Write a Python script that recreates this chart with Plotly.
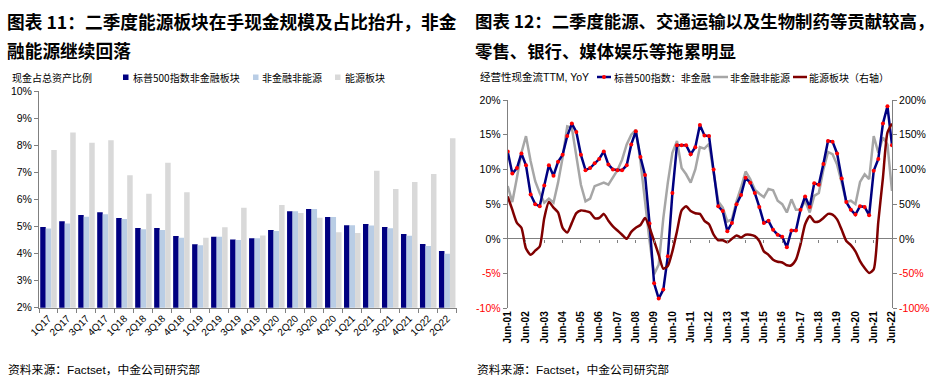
import plotly.graph_objects as go

W, H = 936, 386


def px(x):
    return x / W


def py(y):
    return 1 - y / H


# ---------------- Left chart data (现金占总资产比例, %) ----------------
quarters = ["1Q17", "2Q17", "3Q17", "4Q17", "1Q18", "2Q18", "3Q18", "4Q18",
            "1Q19", "2Q19", "3Q19", "4Q19", "1Q20", "2Q20", "3Q20", "4Q20",
            "1Q21", "2Q21", "3Q21", "4Q21", "1Q22", "2Q22"]
cash_sp500_nonfin = [4.98, 5.19, 5.42, 5.52, 5.31, 4.94, 4.94, 4.65, 4.34, 4.62, 4.52,
                     4.56, 4.87, 5.56, 5.64, 5.35, 5.04, 5.09, 4.98, 4.72, 4.35, 4.09]
cash_nonfin_nonenergy = [4.92, 5.11, 5.36, 5.45, 5.27, 4.90, 4.87, 4.58, 4.31, 4.62, 4.50,
                         4.56, 4.83, 5.56, 5.64, 5.35, 5.04, 5.03, 4.93, 4.66, 4.28, 3.99]
cash_energy = [7.82, 8.47, 8.09, 8.18, 6.89, 6.21, 7.35, 6.26, 4.58, 4.97, 5.69,
               4.67, 5.79, 5.50, 5.32, 4.79, 4.76, 7.06, 6.38, 6.64, 6.94, 8.26]
left_ticks = [2, 3, 4, 5, 6, 7, 8, 9, 10]

# ---------------- Right chart data (经营性现金流TTM, YoY, %) ----------------
_month_end = {3: 31, 6: 30, 9: 30, 12: 31}
qdates = [f"{y}-{m:02d}-{_month_end[m]}" for y in range(2001, 2023) for m in (3, 6, 9, 12)
          if "2001-06-30" <= f"{y}-{m:02d}-{_month_end[m]}" <= "2022-06-30"]
ocf_nonfin = [12.6, 9.4, 10.2, 12.3, 10.6, 6.4, 5.0, 4.7, 7.7, 10.6, 9.1, 11.1, 12.1, 14.8,
              16.6, 15.4, 12.1, 9.9, 10.2, 10.9, 11.5, 12.6, 10.7, 10.0, 9.9, 9.9, 10.6, 13.6,
              15.5, 11.8, 9.2, 2.2, -6.4, -8.6, -7.3, -2.5, 6.6, 13.5, 13.5, 13.5, 12.2, 13.2,
              16.4, 14.9, 14.8, 10.0, 4.7, 4.0, 1.1, 2.3, 5.0, 6.3, 8.8, 8.1, 6.6, 4.6,
              2.3, 2.6, 1.3, 0.6, 0.3, -1.2, 1.2, 1.2, 4.2, 6.1, 4.6, 8.0, 7.8, 10.8,
              14.1, 14.0, 12.3, 8.7, 5.3, 4.2, 3.5, 4.7, 4.6, 3.4, 9.8, 11.5, 16.6, 19.1, 13.5]
ocf_nonfin_nonenergy = [7.6, 5.3, 8.8, 12.4, 14.8, 11.2, 8.3, 6.6, 5.2, 5.8, 5.2, 8.1, 11.7,
                        16.2, 16.0, 12.2, 7.8, 5.4, 5.8, 7.6, 7.9, 8.1, 7.8, 8.8, 9.9, 11.4,
                        13.6, 15.0, 15.7, 11.2, 5.0, -0.3, -5.1, -3.7, 3.0, 8.1, 12.4, 14.1,
                        10.2, 9.3, 8.1, 10.0, 13.2, 13.0, 13.7, 9.8, 5.4, 4.5, 2.5, 2.8, 5.4,
                        7.4, 9.7, 8.6, 7.1, 6.5, 6.0, 7.2, 7.0, 5.5, 5.0, 3.8, 5.7, 4.2, 4.2,
                        5.5, 3.8, 6.2, 6.6, 10.0, 12.5, 12.2, 10.7, 8.1, 5.3, 5.5, 5.0, 8.2,
                        9.3, 8.6, 14.8, 12.4, 14.6, 13.6, 6.9]
ocf_energy = [61, 42, 23, 16, -14, -23, -17, -11, 30, 53, 45, 38, 16, 9, 23, 37, 41, 40, 38,
              30, 30, 36, 26, 18, 12, 6, 0, 10, 16, 20, 30, 16, -3, -23, -43, -39, -18, 11,
              41, 47, 40, 37, 36, 26, 21, 6, -2, -2, -5, 0, 5, 2, 6, 6, 4, -3, -18, -23,
              -30, -33, -34, -38, -38, -30, -8, 21, 33, 25, 25, 30, 36, 35, 28, 13, -3, -9,
              -18, -32, -42, -49, -44, 25, 88, 153, 166]
year_ticks = [f"{y}-06-30" for y in range(2001, 2023)]
year_labels = [f"Jun-{y % 100:02d}" for y in range(2001, 2023)]
right_left_ticks = [-10, -5, 0, 5, 10, 15, 20]
right_right_ticks = [-100, -50, 0, 50, 100, 150, 200]

NAVY = "#000080"
LIGHTBLUE = "#B9CDE5"
LIGHTGRAY = "#D9D9D9"
GRAYLINE = "#A6A6A6"
DARKRED = "#800000"
AXIS = "#808080"
LATIN = "Arial, Liberation Sans, Noto Sans CJK SC, sans-serif"
CJK = "Noto Sans CJK SC, sans-serif"

fig = go.Figure()

# left bars
for name, vals, col in [("标普500指数非金融板块", cash_sp500_nonfin, NAVY),
                        ("非金融非能源", cash_nonfin_nonenergy, LIGHTBLUE),
                        ("能源板块", cash_energy, LIGHTGRAY)]:
    fig.add_trace(go.Bar(x=quarters, y=vals, name=name, marker_color=col,
                         marker_line_width=0, xaxis="x", yaxis="y", showlegend=False))

# right lines
fig.add_trace(go.Scatter(x=qdates, y=ocf_nonfin_nonenergy, mode="lines", name="非金融非能源",
                         line=dict(color=GRAYLINE, width=2.5), xaxis="x2", yaxis="y2",
                         showlegend=False))
fig.add_trace(go.Scatter(x=qdates, y=ocf_nonfin, mode="lines+markers", name="标普500指数：非金融",
                         line=dict(color=NAVY, width=2.5),
                         marker=dict(color="#FF0000", size=4), xaxis="x2", yaxis="y2",
                         showlegend=False))
fig.add_trace(go.Scatter(x=qdates, y=ocf_energy, mode="lines", name="能源板块（右轴）",
                         line=dict(color=DARKRED, width=2.5, shape="spline", smoothing=0.6),
                         xaxis="x2", yaxis="y3", showlegend=False))
# helper trace for the tick marks along the zero line
fig.add_trace(go.Scatter(x=[year_ticks[0], year_ticks[-1]], y=[None, None], mode="lines",
                         xaxis="x3", yaxis="y2", showlegend=False, hoverinfo="skip"))

y2_zero_paper = py(308.3) + (py(100) - py(308.3)) * (10 / 30)

fig.update_layout(
    width=W, height=H, margin=dict(l=0, r=0, t=0, b=0, pad=0, autoexpand=False),
    paper_bgcolor="white", plot_bgcolor="white",
    barmode="group", bargap=0.13, bargroupgap=0,
    font=dict(family=LATIN, size=11, color="#000000"),
    xaxis=dict(domain=[px(39), px(456.7)], anchor="y", type="category",
               showline=True, linecolor=AXIS, linewidth=1, ticks="outside",
               tickson="boundaries", ticklen=4, tickcolor=AXIS, tickangle=-45,
               tickfont=dict(family=LATIN, size=10), showgrid=False, automargin=False),
    yaxis=dict(domain=[py(307.7), py(91)], anchor="x", range=[2, 10],
               tickvals=left_ticks, ticktext=[f"{v}%" for v in left_ticks],
               showline=True, linecolor=AXIS, linewidth=1, ticks="outside", ticklen=4,
               tickcolor=AXIS, showgrid=False, zeroline=False, automargin=False,
               tickfont=dict(family=LATIN, size=10.5)),
    xaxis2=dict(domain=[px(507.7), px(892)], anchor="y2", type="date",
                range=[year_ticks[0], year_ticks[-1]], tickvals=year_ticks,
                ticktext=[f"<b>{t}</b>" for t in year_labels], tickangle=-90,
                showline=False, ticks="", showgrid=False, automargin=False,
                tickfont=dict(family=LATIN, size=10)),
    xaxis3=dict(overlaying="x2", matches="x2", anchor="free", position=y2_zero_paper,
                type="date", tickvals=year_ticks, showticklabels=False, ticks="outside",
                ticklen=3, tickcolor=AXIS, showline=False, showgrid=False, automargin=False),
    yaxis2=dict(domain=[py(308.3), py(100)], anchor="x2", range=[-10, 20],
                tickvals=right_left_ticks,
                ticktext=[(f'<span style="color:#FF0000">{v}%</span>' if v < 0 else f"{v}%")
                          for v in right_left_ticks],
                showline=True, linecolor=AXIS, linewidth=1, ticks="outside", ticklen=4,
                tickcolor=AXIS, showgrid=False, zeroline=True, zerolinecolor=AXIS,
                zerolinewidth=1, automargin=False, tickfont=dict(family=LATIN, size=10.5)),
    yaxis3=dict(overlaying="y2", anchor="x2", side="right", range=[-100, 200],
                tickvals=right_right_ticks,
                ticktext=[(f'<span style="color:#FF0000">{v}%</span>' if v < 0 else f"{v}%")
                          for v in right_right_ticks],
                showline=True, linecolor=AXIS, linewidth=1, ticks="outside", ticklen=4,
                tickcolor=AXIS, showgrid=False, zeroline=False, automargin=False,
                tickfont=dict(family=LATIN, size=10.5)),
)

ann = []


def text(x, y, s, size, bold=False, family=CJK, color="#000000", xanchor="left"):
    ann.append(dict(x=px(x), y=py(y), xref="paper", yref="paper", text=(f"<b>{s}</b>" if bold else s),
                    showarrow=False, xanchor=xanchor, yanchor="middle",
                    font=dict(family=family, size=size, color=color)))


# titles
text(5, 21, "图表 11：二季度能源板块在手现金规模及占比抬升，非金", 17.7, bold=True)
text(5, 50, "融能源继续回落", 17.7, bold=True)
text(473, 21, "图表 12：二季度能源、交通运输以及生物制药等贡献较高，", 17.4, bold=True)
text(473, 50, "零售、银行、媒体娱乐等拖累明显", 17.4, bold=True)
# axis titles
text(10, 77, "现金占总资产比例", 10)
text(478, 77, "经营性现金流TTM, YoY", 10.5, family=LATIN)
# left legend
text(131, 77, "标普500指数非金融板块", 10)
text(260, 77, "非金融非能源", 10)
text(343, 77, "能源板块", 10)
# right legend
text(612, 77, "标普500指数：非金融", 10)
text(728, 77, "非金融非能源", 10)
text(807, 77, "能源板块（右轴）", 10)
# sources
text(6, 370, "资料来源：Factset，中金公司研究部", 11.8, family=LATIN)
text(475, 370, "资料来源：Factset，中金公司研究部", 11.8, family=LATIN)

shapes = []
for x0, col in [(123, NAVY), (253, LIGHTBLUE), (335, LIGHTGRAY)]:
    shapes.append(dict(type="rect", xref="paper", yref="paper", x0=px(x0), x1=px(x0 + 5.5),
                       y0=py(80), y1=py(74.5), fillcolor=col, line=dict(width=0)))
for x0, x1, col in [(597, 611, NAVY), (713, 728, GRAYLINE), (793, 807, DARKRED)]:
    shapes.append(dict(type="line", xref="paper", yref="paper", x0=px(x0), x1=px(x1),
                       y0=py(77), y1=py(77), line=dict(color=col, width=2.5)))
shapes.append(dict(type="circle", xref="paper", yref="paper", x0=px(602), x1=px(606),
                   y0=py(79), y1=py(75), fillcolor="#FF0000", line=dict(width=0)))

fig.update_layout(annotations=ann, shapes=shapes)

# remove the browser's default 8px page margin so the figure sits at the window's corner
fig.write_html("out.html", config={"displayModeBar": False},
               post_script="document.body.style.margin='0';")
